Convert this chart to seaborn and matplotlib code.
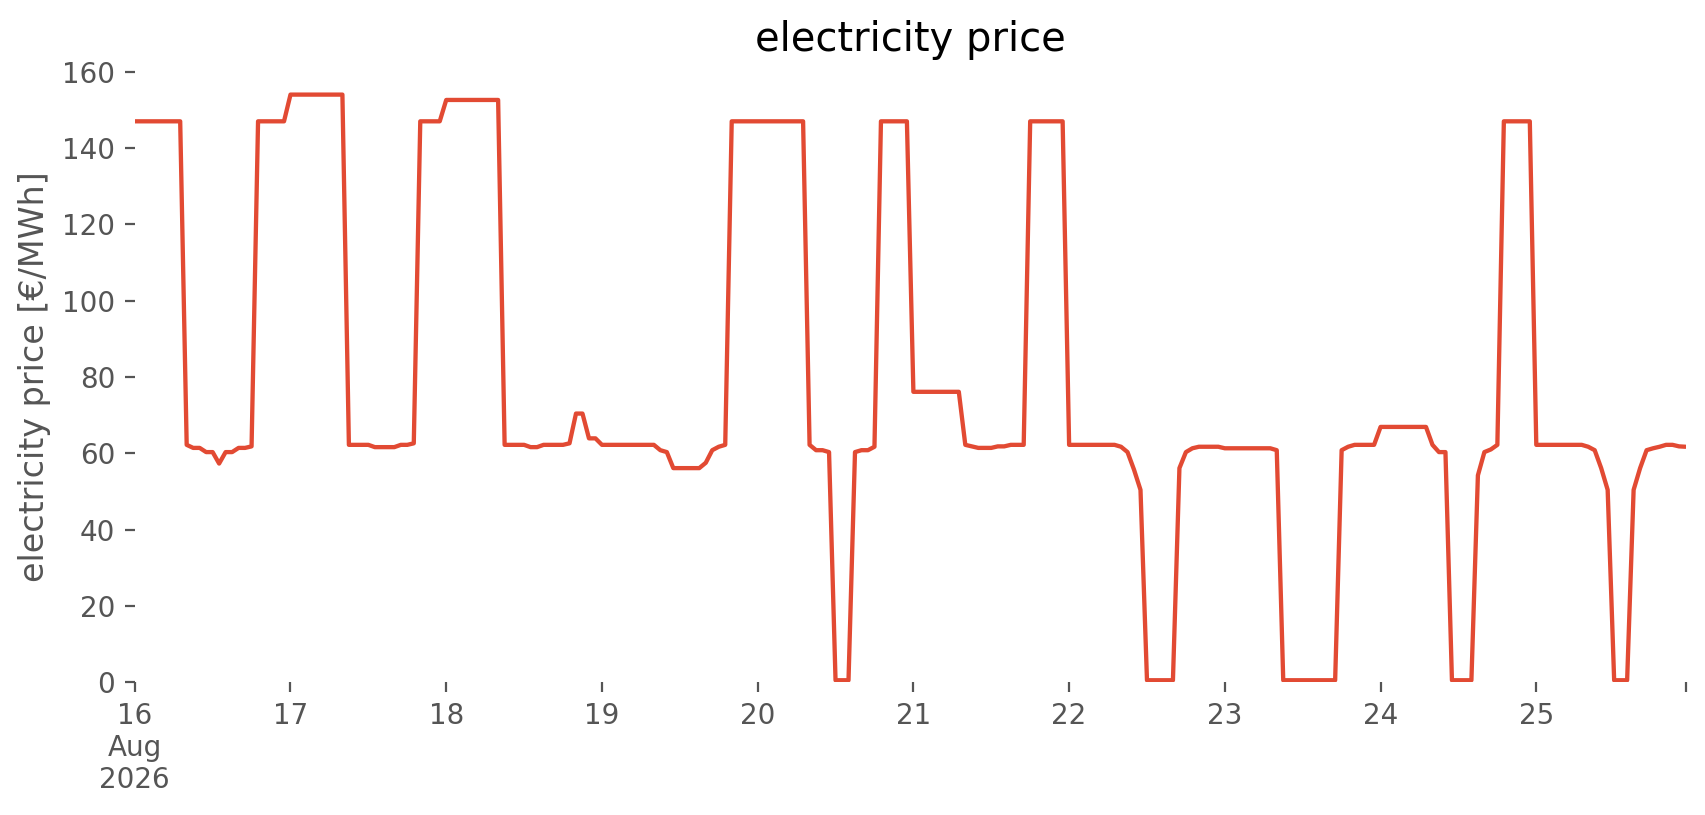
import matplotlib
matplotlib.use("Agg")
import pandas as pd
import seaborn as sns
import matplotlib.pyplot as plt

# hourly electricity price [EUR/MWh], one list per day (16-25 Aug 2026)
aug16 = [147.0, 147.0, 147.0, 147.0, 147.0, 147.0, 147.0, 147.0, 62.2, 61.4, 61.4, 60.3,
         60.3, 57.3, 60.3, 60.3, 61.4, 61.4, 61.8, 147.0, 147.0, 147.0, 147.0, 147.0]
aug17 = [154.0, 154.0, 154.0, 154.0, 154.0, 154.0, 154.0, 154.0, 154.0, 62.2, 62.2, 62.2,
         62.2, 61.6, 61.6, 61.6, 61.6, 62.2, 62.2, 62.6, 147.0, 147.0, 147.0, 147.0]
aug18 = [152.6, 152.6, 152.6, 152.6, 152.6, 152.6, 152.6, 152.6, 152.6, 62.2, 62.2, 62.2,
         62.2, 61.6, 61.6, 62.2, 62.2, 62.2, 62.2, 62.6, 70.4, 70.4, 63.9, 63.9]
aug19 = [62.2, 62.2, 62.2, 62.2, 62.2, 62.2, 62.2, 62.2, 62.2, 60.8, 60.3, 56.1,
         56.1, 56.1, 56.1, 56.1, 57.5, 60.8, 61.7, 62.2, 147.0, 147.0, 147.0, 147.0]
aug20 = [147.0, 147.0, 147.0, 147.0, 147.0, 147.0, 147.0, 147.0, 62.2, 60.8, 60.8, 60.3,
         0.5, 0.5, 0.5, 60.3, 60.8, 60.8, 61.7, 147.0, 147.0, 147.0, 147.0, 147.0]
aug21 = [76.1, 76.1, 76.1, 76.1, 76.1, 76.1, 76.1, 76.1, 62.2, 61.8, 61.4, 61.4,
         61.4, 61.8, 61.8, 62.2, 62.2, 62.2, 147.0, 147.0, 147.0, 147.0, 147.0, 147.0]
aug22 = [62.2, 62.2, 62.2, 62.2, 62.2, 62.2, 62.2, 62.2, 61.7, 60.3, 55.7, 50.4,
         0.5, 0.5, 0.5, 0.5, 0.5, 56.1, 60.3, 61.3, 61.7, 61.7, 61.7, 61.7]
aug23 = [61.3, 61.3, 61.3, 61.3, 61.3, 61.3, 61.3, 61.3, 60.8, 0.5, 0.5, 0.5,
         0.5, 0.5, 0.5, 0.5, 0.5, 0.5, 60.8, 61.7, 62.2, 62.2, 62.2, 62.2]
aug24 = [66.9, 66.9, 66.9, 66.9, 66.9, 66.9, 66.9, 66.9, 62.2, 60.3, 60.3, 0.5,
         0.5, 0.5, 0.5, 54.2, 60.3, 61.0, 62.2, 147.0, 147.0, 147.0, 147.0, 147.0]
aug25 = [62.2, 62.2, 62.2, 62.2, 62.2, 62.2, 62.2, 62.2, 61.7, 60.8, 56.1, 50.4,
         0.5, 0.5, 0.5, 50.4, 56.1, 60.8, 61.3, 61.7, 62.2, 62.2, 61.8, 61.7]

days = [aug16, aug17, aug18, aug19, aug20, aug21, aug22, aug23, aug24, aug25]
prices = [p for day in days for p in day]
times = pd.date_range("2026-08-16 00:00", periods=len(prices), freq="h")
df = pd.DataFrame({"time": times, "price": prices})

day_ticks = pd.date_range("2026-08-16", "2026-08-25", freq="D")
day_labels = ["16\nAug\n2026"] + [str(d.day) for d in day_ticks[1:]]

sns.set_style("white")
plt.rcParams["font.family"] = ["DejaVu Sans"]
plt.rcParams["font.size"] = 10

fig = plt.figure(figsize=(8.53, 4.075), dpi=200)
ax = fig.add_axes([0.079, 0.163, 0.909, 0.749])

sns.lineplot(data=df, x="time", y="price", ax=ax, color="#E24A33", linewidth=1.55)

ax.set_xlim(times[0], times[-1])
ax.set_ylim(0, 160)
ax.set_yticks(range(0, 161, 20))
ax.set_xticks(list(day_ticks) + [times[-1]])
ax.set_xticklabels(day_labels + [""])

sns.despine(ax=ax, left=True, bottom=True, top=True, right=True)
ax.tick_params(axis="both", colors="#555555", labelsize=10, length=3.5, width=0.8,
               direction="out", bottom=True, left=True)
ax.grid(False)

ax.set_title("electricity price", fontsize=14.4, color="black", pad=7.5)
ax.set_xlabel("")
ax.set_ylabel("electricity price [€/MWh]", fontsize=12, color="#555555")

fig.savefig("out.png", dpi=200)
